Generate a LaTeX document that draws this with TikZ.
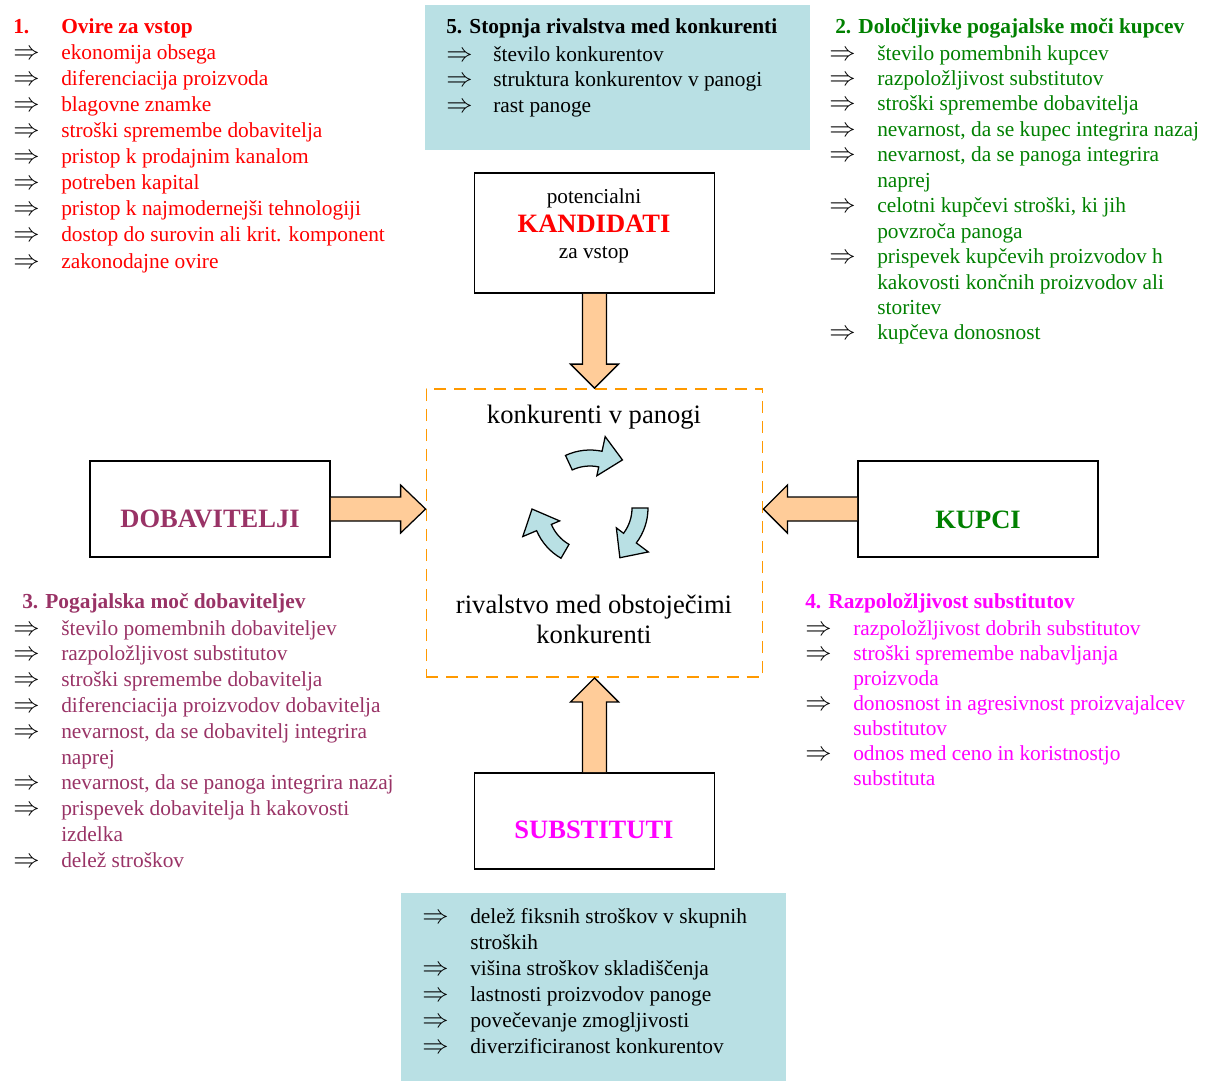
\documentclass[tikz,border=0pt]{standalone}
\usepackage{fontspec}
\setmainfont{Liberation Serif}
\usepackage{xcolor}
\usepackage{tikz}
\usetikzlibrary{calc}

\definecolor{rdtxt}{RGB}{255,0,0}
\definecolor{grtxt}{RGB}{0,128,0}
\definecolor{pltxt}{RGB}{153,51,102}
\definecolor{mgtxt}{RGB}{255,0,255}
\definecolor{tealfill}{RGB}{185,224,228}
\definecolor{peach}{RGB}{255,204,153}
\definecolor{dashorange}{RGB}{255,153,0}

\newcommand{\impl}{\textcolor{black}{\scalebox{1.3}{$\Rightarrow$}}}

\begin{document}
\begin{tikzpicture}[x=0.025cm, y=-0.025cm,
  itemlist/.style={anchor=base west, inner sep=0pt, font=\fontsize{15.2pt}{#1}\selectfont},
  head/.style={anchor=base west, inner sep=0pt, font=\fontsize{15.2pt}{18pt}\selectfont\bfseries},
  force/.style={draw=black, line width=1.2pt, fill=white, minimum width=6cm, minimum height=2.4cm, inner sep=0pt},
  forcelabel/.style={anchor=base, inner sep=0pt, font=\fontsize{18.85pt}{22pt}\selectfont\bfseries},
  smalllabel/.style={anchor=base, inner sep=0pt, font=\fontsize{15.1pt}{18pt}\selectfont},
  midlabel/.style={anchor=base, inner sep=0pt, font=\fontsize{18.9pt}{22pt}\selectfont},
  tealbox/.style={fill=tealfill, inner sep=0pt},
  blockarrow/.style={draw=black, line width=0.9pt, fill=peach, line join=miter},
  cycarrow/.style={draw=black, line width=0.9pt, fill=tealfill, line join=miter},
]
\useasboundingbox (0,0) rectangle (1207,1081);

\node[tealbox, minimum width=9.625cm, minimum height=3.625cm] (stopnjabox) at (617.5,77.5) {};
\node[tealbox, minimum width=9.625cm, minimum height=4.7cm] (rastbox) at (593.5,987) {};

\node[draw=dashorange, line width=1.2pt, dash pattern=on 0.3cm off 0.2cm, minimum width=8.4cm, minimum height=7.2cm, inner sep=0pt] (rival) at (594.5,533) {};

\node[force, minimum height=3cm] (kandidati) at (594.5,233) {};
\node[force] (dobavitelji) at (210,509) {};
\node[force] (kupci) at (978,509) {};
\node[force] (substituti) at (594.5,821) {};

\coordinate (tipw) at (rival.west |- dobavitelji.east);
\coordinate (tipe) at (rival.east |- kupci.west);

\draw[blockarrow] ($(kandidati.south)+(-12,0)$) -- ($(rival.north)+(-12,-24)$) -- ($(rival.north)+(-24,-24)$) -- (rival.north)
  -- ($(rival.north)+(24,-24)$) -- ($(rival.north)+(12,-24)$) -- ($(kandidati.south)+(12,0)$);
\draw[blockarrow] ($(substituti.north)+(-12,0)$) -- ($(rival.south)+(-12,24)$) -- ($(rival.south)+(-24,24)$) -- (rival.south)
  -- ($(rival.south)+(24,24)$) -- ($(rival.south)+(12,24)$) -- ($(substituti.north)+(12,0)$);
\draw[blockarrow] ($(dobavitelji.east)+(0,-12)$) -- ($(tipw)+(-25,-12)$) -- ($(tipw)+(-25,-24)$) -- (tipw)
  -- ($(tipw)+(-25,24)$) -- ($(tipw)+(-25,12)$) -- ($(dobavitelji.east)+(0,12)$);
\draw[blockarrow] ($(kupci.west)+(0,-12)$) -- ($(tipe)+(24,-12)$) -- ($(tipe)+(24,-24)$) -- (tipe)
  -- ($(tipe)+(24,24)$) -- ($(tipe)+(24,12)$) -- ($(kupci.west)+(0,12)$);

\begin{scope}[shift={(590,508)}, yscale=-1]
  \foreach \a in {115,0,240}
    \draw[cycarrow] (\a:42) arc[start angle=\a, end angle=\a-37, radius=42] -- (\a-37:33) -- (\a-59:58)
      -- (\a-37:73) -- (\a-37:58) arc[start angle=\a-37, end angle=\a, radius=58] -- cycle;
\end{scope}

\node[smalllabel] (potencialni) at (594,203) {potencialni};
\node[forcelabel, text=rdtxt] (kandlabel) at (594,232) {KANDIDATI};
\node[smalllabel] (zavstop) at (594,258) {za vstop};
\node[forcelabel, text=pltxt] (doblabel) at (210,527) {DOBAVITELJI};
\node[forcelabel, text=grtxt] (kuplabel) at (978,528) {KUPCI};
\node[forcelabel, text=mgtxt] (sublabel) at (594,838) {SUBSTITUTI};

\node[midlabel] (panoga) at (594,423) {konkurenti v panogi};
\node[midlabel] (rivalstvo) at (594,613) {\begin{tabular}[t]{@{}c@{}}rivalstvo med obstoječimi\\konkurenti\end{tabular}};

\node[itemlist=18.57pt, text=rdtxt] (ovire) at (13,33) {\begin{tabular}[t]{@{}p{1.2cm}@{}l@{}}
\textbf{1.} & \textbf{Ovire za vstop}\\
\impl & ekonomija obsega\\
\impl & diferenciacija proizvoda\\
\impl & blagovne znamke\\
\impl & stroški spremembe dobavitelja\\
\impl & pristop k prodajnim kanalom\\
\impl & potreben kapital\\
\impl & pristop k najmodernejši tehnologiji\\
\impl & dostop do surovin ali krit. komponent\\
\impl & zakonodajne ovire
\end{tabular}};

\node[head] (stopnjahead) at (446,33) {5. Stopnja rivalstva med konkurenti};
\node[itemlist=18.14pt] (stopnja) at (446,61) {\begin{tabular}[t]{@{}p{1.175cm}@{}l@{}}
\impl & število konkurentov\\
\impl & struktura konkurentov v panogi\\
\impl & rast panoge
\end{tabular}};

\node[head, text=grtxt] (kupcihead) at (835,33) {2. Določljivke pogajalske moči kupcev};
\node[itemlist=18.10pt, text=grtxt] (kupcilist) at (829,60) {\begin{tabular}[t]{@{}p{1.2cm}@{}l@{}}
\impl & število pomembnih kupcev\\
\impl & razpoložljivost substitutov\\
\impl & stroški spremembe dobavitelja\\
\impl & nevarnost, da se kupec integrira nazaj\\
\impl & nevarnost, da se panoga integrira\\
 & naprej\\
\impl & celotni kupčevi stroški, ki jih\\
 & povzroča panoga\\
\impl & prispevek kupčevih proizvodov h\\
 & kakovosti končnih proizvodov ali\\
 & storitev\\
\impl & kupčeva donosnost
\end{tabular}};

\node[head, text=pltxt] (dobhead) at (22,608) {3. Pogajalska moč dobaviteljev};
\node[itemlist=18.35pt, text=pltxt] (doblist) at (13,635) {\begin{tabular}[t]{@{}p{1.2cm}@{}l@{}}
\impl & število pomembnih dobaviteljev\\
\impl & razpoložljivost substitutov\\
\impl & stroški spremembe dobavitelja\\
\impl & diferenciacija proizvodov dobavitelja\\
\impl & nevarnost, da se dobavitelj integrira\\
 & naprej\\
\impl & nevarnost, da se panoga integrira nazaj\\
\impl & prispevek dobavitelja h kakovosti\\
 & izdelka\\
\impl & delež stroškov
\end{tabular}};

\node[head, text=mgtxt] (subhead) at (805,608) {4. Razpoložljivost substitutov};
\node[itemlist=17.78pt, text=mgtxt] (sublist) at (805,635) {\begin{tabular}[t]{@{}p{1.2cm}@{}l@{}}
\impl & razpoložljivost dobrih substitutov\\
\impl & stroški spremembe nabavljanja\\
 & proizvoda\\
\impl & donosnost in agresivnost proizvajalcev\\
 & substitutov\\
\impl & odnos med ceno in koristnostjo\\
 & substituta
\end{tabular}};

\node[itemlist=18.49pt] (rastlist) at (422,923) {\begin{tabular}[t]{@{}p{1.2cm}@{}l@{}}
\impl & delež fiksnih stroškov v skupnih\\
 & stroških\\
\impl & višina stroškov skladiščenja\\
\impl & lastnosti proizvodov panoge\\
\impl & povečevanje zmogljivosti\\
\impl & diverzificiranost konkurentov
\end{tabular}};
\end{tikzpicture}
\end{document}
